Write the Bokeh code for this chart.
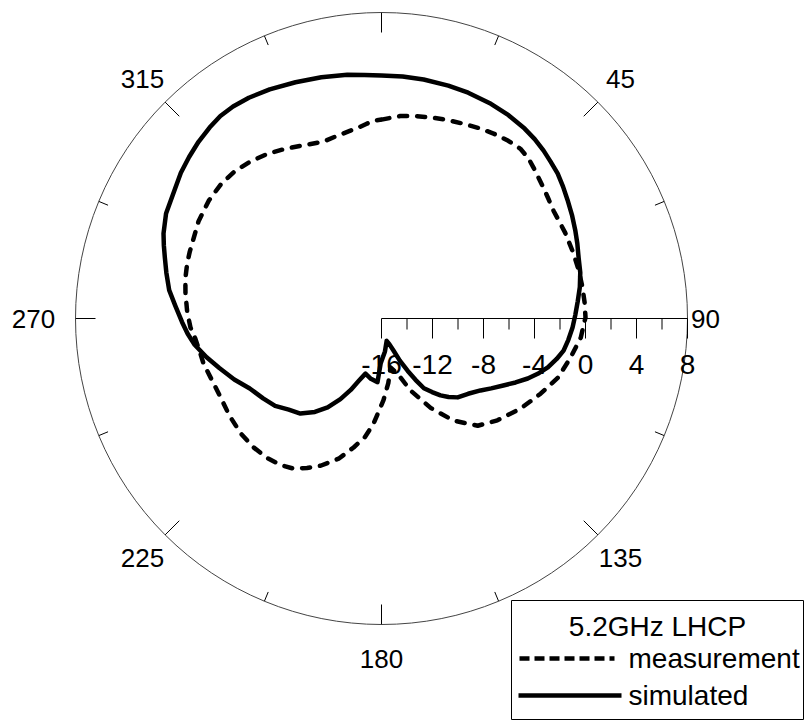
import numpy as np
from bokeh.plotting import figure
from bokeh.models import Range1d
from bokeh.core.properties import value
from bokeh.embed import file_html
from bokeh.resources import INLINE

# ---- data: 5.2 GHz LHCP radiation pattern (angle in degrees, gain in dB) ----
sim_angle = [0, 5, 10, 16, 21, 27, 32, 37, 40.5, 44, 47, 50.5, 54, 57.5, 61.5, 65.5,
             69, 73, 77, 81, 85, 89, 92.7, 96.5, 100, 103, 106.4, 109.5, 112.3, 115.5,
             118.8, 122.5, 126, 131, 136, 139.5, 142.5, 145.5, 148.7, 151, 153.4,
             156.5, 159.4, 163, 167, 174, 181, 183.6, 190, 196.2, 200, 203.3, 207,
             211.2, 215.5, 220.5, 225.5, 230.6, 236, 242, 247.5, 253, 257.5, 262,
             265.5, 269, 273.5, 277.6, 282, 285.7, 288.5, 291.3, 296, 302.5, 306,
             310, 314, 318, 321.5, 325, 329, 334, 340, 346, 352, 356, 360]
sim_gain = [3.05, 3.05, 3.03, 3.0, 2.97, 2.9, 2.8, 2.65, 2.5, 2.3, 2.1, 1.9, 1.6, 1.3,
            1.0, 0.7, 0.45, 0.17, 0.0, -0.25, -0.55, -0.8, -1.0, -1.25, -1.5, -1.9,
            -2.4, -3.0, -3.6, -4.35, -5.1, -5.8, -6.4, -7.0, -7.4, -7.9, -8.4, -9.0,
            -9.6, -10.5, -11.4, -12.4, -13.3, -13.9, -14.2, -13.4, -12.5, -11.0,
            -11.2, -11.5, -10.8, -9.9, -8.9, -7.85, -7.0, -6.2, -5.8, -5.2, -4.8,
            -4.3, -3.5, -2.7, -1.95, -1.2, -0.75, -0.35, 0.2, 0.8, 1.25, 1.65, 2.0,
            2.35, 2.8, 3.15, 3.45, 3.7, 3.95, 4.15, 4.3, 4.3, 4.2, 4.0, 3.72, 3.5,
            3.3, 3.15, 3.05]

meas_angle = [0, 5.3, 9.5, 13.7, 18, 22.8, 27, 31.2, 35.5, 39.3, 42.5, 45.2, 48, 51,
              54.5, 58, 65, 71.3, 76, 81, 85.5, 89.7, 95.5, 101.7, 108.5, 115.3,
              122.9, 131.3, 138.1, 144.8, 151.2, 158, 163.8, 169.6, 174, 178.6, 184.4,
              188, 192.2, 197, 202.5, 206.5, 210.4, 214.5, 219.4, 225, 230.8, 237.5,
              243.9, 250, 255.8, 260, 264, 267.3, 272, 277.3, 281.5, 285.8, 289,
              292.4, 298, 304.3, 310, 315, 320, 325.4, 330.5, 335.7, 341.8, 346.5,
              350, 352.8, 355.5, 357.7, 360]
meas_gain = [-0.4, -0.05, 0.1, 0.23, 0.4, 0.57, 0.77, 0.96, 1.12, 1.2, 1.05, 0.8, 0.55,
             0.33, 0.1, -0.08, -0.1, -0.1, -0.08, -0.05, -0.02, 0.0, -0.3, -0.86, -1.4,
             -2.2, -3.0, -3.9, -4.7, -6.2, -8.0, -9.9, -11.5, -12.1, -10.9, -9.6, -7.7,
             -6.6, -5.65, -4.5, -3.5, -2.9, -2.35, -2.05, -1.85, -1.75, -1.75, -1.85,
             -1.95, -1.85, -1.6, -1.5, -1.3, -1.0, -0.75, -0.5, -0.3, -0.16, -0.08,
             0.0, 0.25, 0.4, 0.42, 0.3, 0.05, -0.3, -0.7, -1.1, -1.4, -1.25, -1.1,
             -0.94, -0.7, -0.47, -0.4]

r_ticks = [-16, -14, -12, -10, -8, -6, -4, -2, 0, 2, 4, 6, 8]
r_labels = ["-16", "-12", "-8", "-4", "0", "4", "8"]
ang_labels = ["45", "90", "135", "180", "225", "270", "315"]

title_text = "5.2GHz LHCP"
series_names = ["measurement", "simulated"]

# ---- layout ----
W, H = 807, 723
CX, CY = 381, 318          # pole position in pixels
K = 12.75                  # pixels per dB
RMIN, RMAX = -16, 8
FONT = "Liberation Sans"
FS_ANG = "26px"
FS = "28px"


def px(x, y):
    """pixel position -> data coordinates"""
    return (x - CX) / K, (CY - y) / K


def polar(angles, gains):
    a = np.radians(np.asarray(angles, float))
    r = np.asarray(gains, float) - RMIN
    return r * np.sin(a), r * np.cos(a)


p = figure(width=W, height=H, output_backend="svg", toolbar_location=None,
           x_range=Range1d(-CX / K, (W - CX) / K),
           y_range=Range1d(-(H - CY) / K, CY / K),
           min_border=0)
p.axis.visible = False
p.grid.visible = False
p.outline_line_color = None
p.background_fill_color = "white"
p.border_fill_color = "white"

R = RMAX - RMIN

# outer circle
p.arc(x=[0], y=[0], radius=[R], start_angle=0, end_angle=2 * np.pi,
      line_color="#444444", line_width=1)

# angular ticks every 22.5 deg, longer at multiples of 45
tick_deg = np.arange(0, 360, 22.5)
lens = np.where(np.mod(tick_deg, 45) == 0, 20 / K, 10 / K)
ta = np.radians(tick_deg)
p.segment(x0=R * np.sin(ta), y0=R * np.cos(ta),
          x1=(R - lens) * np.sin(ta), y1=(R - lens) * np.cos(ta),
          line_color="black", line_width=1)

# angular labels
lab_ang = np.radians([float(s) for s in ang_labels])
lab_rad = []
for s in ang_labels:
    if s == "90":
        lab_rad.append(324 / K)
    elif s == "270":
        lab_rad.append(348 / K)
    elif s == "180":
        lab_rad.append(340 / K)
    else:
        lab_rad.append(338 / K)
lab_rad = np.array(lab_rad)
p.text(x=lab_rad * np.sin(lab_ang), y=lab_rad * np.cos(lab_ang), text=ang_labels,
       text_font=value(FONT), text_font_size=FS_ANG, text_color="black",
       text_align="center", text_baseline="middle")

# radial axis along 90 deg
p.segment(x0=[0], y0=[0], x1=[R], y1=[0], line_color="black", line_width=1)
rt = np.array(r_ticks, float) - RMIN
rl = np.where(np.mod(np.array(r_ticks), 4) == 0, 20 / K, 11 / K)
p.segment(x0=rt, y0=np.zeros_like(rt), x1=rt, y1=-rl, line_color="black", line_width=1)
p.text(x=[float(s) - RMIN for s in r_labels], y=[-(364 - CY) / K] * len(r_labels),
       text=r_labels, text_font=value(FONT), text_font_size=FS, text_color="black",
       text_align="center", text_baseline="middle")

# pattern curves
mx, my = polar(meas_angle, meas_gain)
sx, sy = polar(sim_angle, sim_gain)
p.line(mx, my, line_color="black", line_width=4.5, line_dash="8 10", line_cap="round",
       line_join="round")
p.line(sx, sy, line_color="black", line_width=4.5, line_join="round")

# legend box
x0, y0 = px(511, 600)
x1, y1 = px(803, 719)
p.quad(left=[x0], right=[x1], top=[y0], bottom=[y1], fill_color="white",
       line_color="black", line_width=1)
tx, ty = px(657, 626)
p.text(x=[tx], y=[ty], text=[title_text], text_font=value(FONT), text_font_size=FS,
       text_color="black", text_align="center", text_baseline="middle")
ax0, ay0 = px(519, 658)
ax1, _ = px(614, 658)
p.line([ax0, ax1], [ay0, ay0], line_color="black", line_width=4.5, line_dash="10 5")
bx0, by0 = px(518, 695)
bx1, _ = px(621, 695)
p.line([bx0, bx1], [by0, by0], line_color="black", line_width=4.5)
lx, _ = px(628, 0)
p.text(x=[lx, lx], y=[ay0, by0], text=series_names, text_font=value(FONT),
       text_font_size=FS, text_color="black", text_align="left", text_baseline="middle")

open("out.html", "w").write(file_html(p, INLINE))
